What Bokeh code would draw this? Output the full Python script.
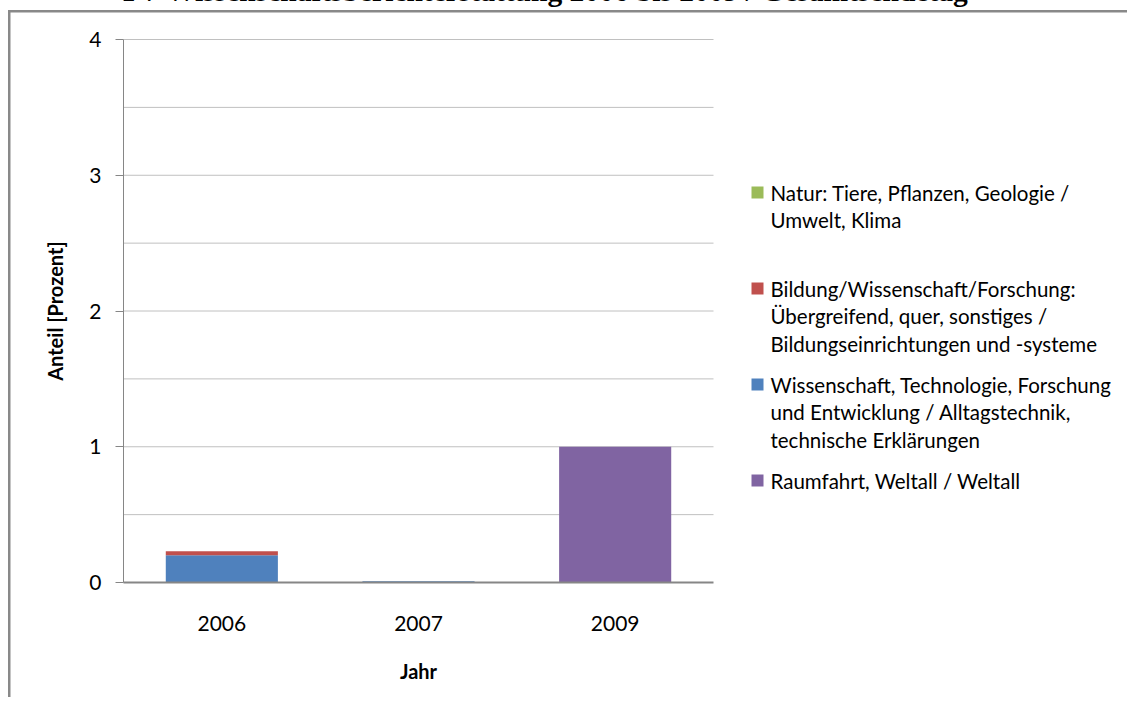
from bokeh.plotting import figure
from bokeh.models import Range1d, FixedTicker, LinearAxis
from bokeh.core.properties import value
from bokeh.embed import file_html
from bokeh.resources import INLINE

# ---- data ----
years = ["2006", "2007", "2009"]
raumfahrt = [0.0, 0.0, 1.0]
wissenschaft = [0.2, 0.01, 0.0]
bildung = [0.03, 0.0, 0.0]
natur = [0.0, 0.0, 0.0]

series_keys = ["raumfahrt", "wissenschaft", "bildung", "natur"]
series_colors = ["#8064A2", "#4F81BD", "#C0504D", "#9BBB59"]

y_ticks = [0, 1, 2, 3, 4]
y_grid = [0.5, 1, 1.5, 2, 2.5, 3, 3.5, 4]

legend_lines = {
    "natur": ["Natur: Tiere, Pflanzen, Geologie /", "Umwelt, Klima"],
    "bildung": ["Bildung/Wissenschaft/Forschung:", "Übergreifend, quer, sonstiges /",
                "Bildungseinrichtungen und -systeme"],
    "wissenschaft": ["Wissenschaft, Technologie, Forschung", "und Entwicklung / Alltagstechnik,",
                     "technische Erklärungen"],
    "raumfahrt": ["Raumfahrt, Weltall / Weltall"],
}
legend_order = ["natur", "bildung", "wissenschaft", "raumfahrt"]

title_text = "Abb. 4: ATV Wissenschaftsberichterstattung 2006 bis 2009 / Gesamtsendetag"
y_label = "Anteil [Prozent]"
x_label = "Jahr"

# ---- layout geometry (page pixels) ----
OFF = 8                      # canvas origin sits at page (-8, -8)
W, H = 1135, 705
FL, FB = 123, 582            # plot area left / bottom on the page
PX_PER_CAT = 590 / 3.0
PX_PER_UNIT = 543 / 4.0
FONT = "Lato"

n = len(years)
x_end = (W - (FL + OFF)) / PX_PER_CAT
y_end = (FB + OFF) / PX_PER_UNIT


def X(px):
    return (px - FL) / PX_PER_CAT


def Y(py):
    return (FB - py) / PX_PER_UNIT


p = figure(x_range=Range1d(0, x_end), y_range=Range1d(0, y_end), width=W, height=H,
           output_backend="svg", toolbar_location=None,
           min_border_left=FL + OFF, min_border_right=0,
           min_border_top=0, min_border_bottom=H - (FB + OFF))
p.styles = {
    "margin-left": "-8px", "margin-top": "-8px",
    "box-shadow": "inset 16px 18px 0 0 #ffffff, inset 18.5px 20.5px 0 0 #898989",
}
p.outline_line_color = None
p.background_fill_alpha = 0
p.border_fill_alpha = 0

xs = [i + 0.5 for i in range(n)]
data = {"x": xs, "raumfahrt": raumfahrt, "wissenschaft": wissenschaft,
        "bildung": bildung, "natur": natur}

# gridlines (only across the plot area)
p.segment(x0=[0] * len(y_grid), x1=[n] * len(y_grid), y0=y_grid, y1=y_grid,
          line_color="#c0c0c0", line_width=1)

p.vbar_stack(series_keys, x="x", width=0.57, color=series_colors,
             line_color=None, source=data)

# primary axes
p.yaxis.bounds = (0, 4)
p.yaxis.ticker = FixedTicker(ticks=y_ticks)
p.yaxis.minor_tick_line_color = None
p.yaxis.major_tick_out = 8
p.yaxis.major_tick_in = 0
p.yaxis.major_tick_line_color = "#868686"
p.yaxis.axis_line_color = "#868686"
p.yaxis.major_label_text_font = FONT
p.yaxis.major_label_text_font_size = "21px"
p.yaxis.major_label_text_color = "#000000"
p.yaxis.major_label_standoff = 14

p.xaxis.bounds = (0, n)
p.xaxis.ticker = FixedTicker(ticks=xs)
p.xaxis.major_label_overrides = {x: y for x, y in zip(xs, years)}
p.xaxis.major_tick_line_color = None
p.xaxis.minor_tick_line_color = None
p.xaxis.axis_line_color = "#868686"
p.xaxis.axis_line_width = 2
p.xaxis.major_label_text_font = FONT
p.xaxis.major_label_text_font_size = "21px"
p.xaxis.major_label_text_color = "#000000"
p.xaxis.major_label_standoff = 27

# axis titles, centred on the plot area (outer label-only axes)
ylab_axis = LinearAxis(ticker=FixedTicker(ticks=[2]), major_label_overrides={2: y_label},
                       major_label_orientation="vertical", bounds=(0, 4),
                       axis_line_color=None, major_tick_line_color=None,
                       minor_tick_line_color=None, major_label_standoff=14,
                       major_label_text_font=FONT, major_label_text_font_style="bold",
                       major_label_text_font_size="20px", major_label_text_color="#000000")
p.add_layout(ylab_axis, "left")

xlab_axis = LinearAxis(ticker=FixedTicker(ticks=[n / 2]), major_label_overrides={n / 2: x_label},
                       bounds=(0, n), axis_line_color=None, major_tick_line_color=None,
                       minor_tick_line_color=None, major_label_standoff=19,
                       major_label_text_font=FONT, major_label_text_font_style="bold",
                       major_label_text_font_size="20px", major_label_text_color="#000000")
p.add_layout(xlab_axis, "below")

p.xgrid.visible = False
p.ygrid.visible = False

# title (cut off at the top of the page, like the reference)
p.text(x=[X(0)], y=[Y(-10)], text=[title_text], text_font=value("Liberation Serif"),
       text_font_style="bold", text_font_size="29.5px", text_baseline="middle",
       text_color="#000000")

# legend
entry_center = {"natur": 192, "bildung": 288, "wissenschaft": 384, "raumfahrt": 480}
color_of = dict(zip(series_keys, series_colors))
sq_x, sq_y, sq_c = [], [], []
tx, ty, tt = [], [], []
for key in legend_order:
    y0 = entry_center[key]
    sq_x.append(X(757))
    sq_y.append(Y(y0))
    sq_c.append(color_of[key])
    for i, line in enumerate(legend_lines[key]):
        tx.append(X(770))
        ty.append(Y(y0 + i * 27.5))
        tt.append(line)
p.scatter(x=sq_x, y=sq_y, color=sq_c, marker="square", size=12, line_color=None)
p.text(x=tx, y=ty, text=tt, text_font=value(FONT), text_font_size="20.5px",
       text_baseline="middle", text_color="#000000")

open("out.html", "w").write(file_html(p, INLINE))
